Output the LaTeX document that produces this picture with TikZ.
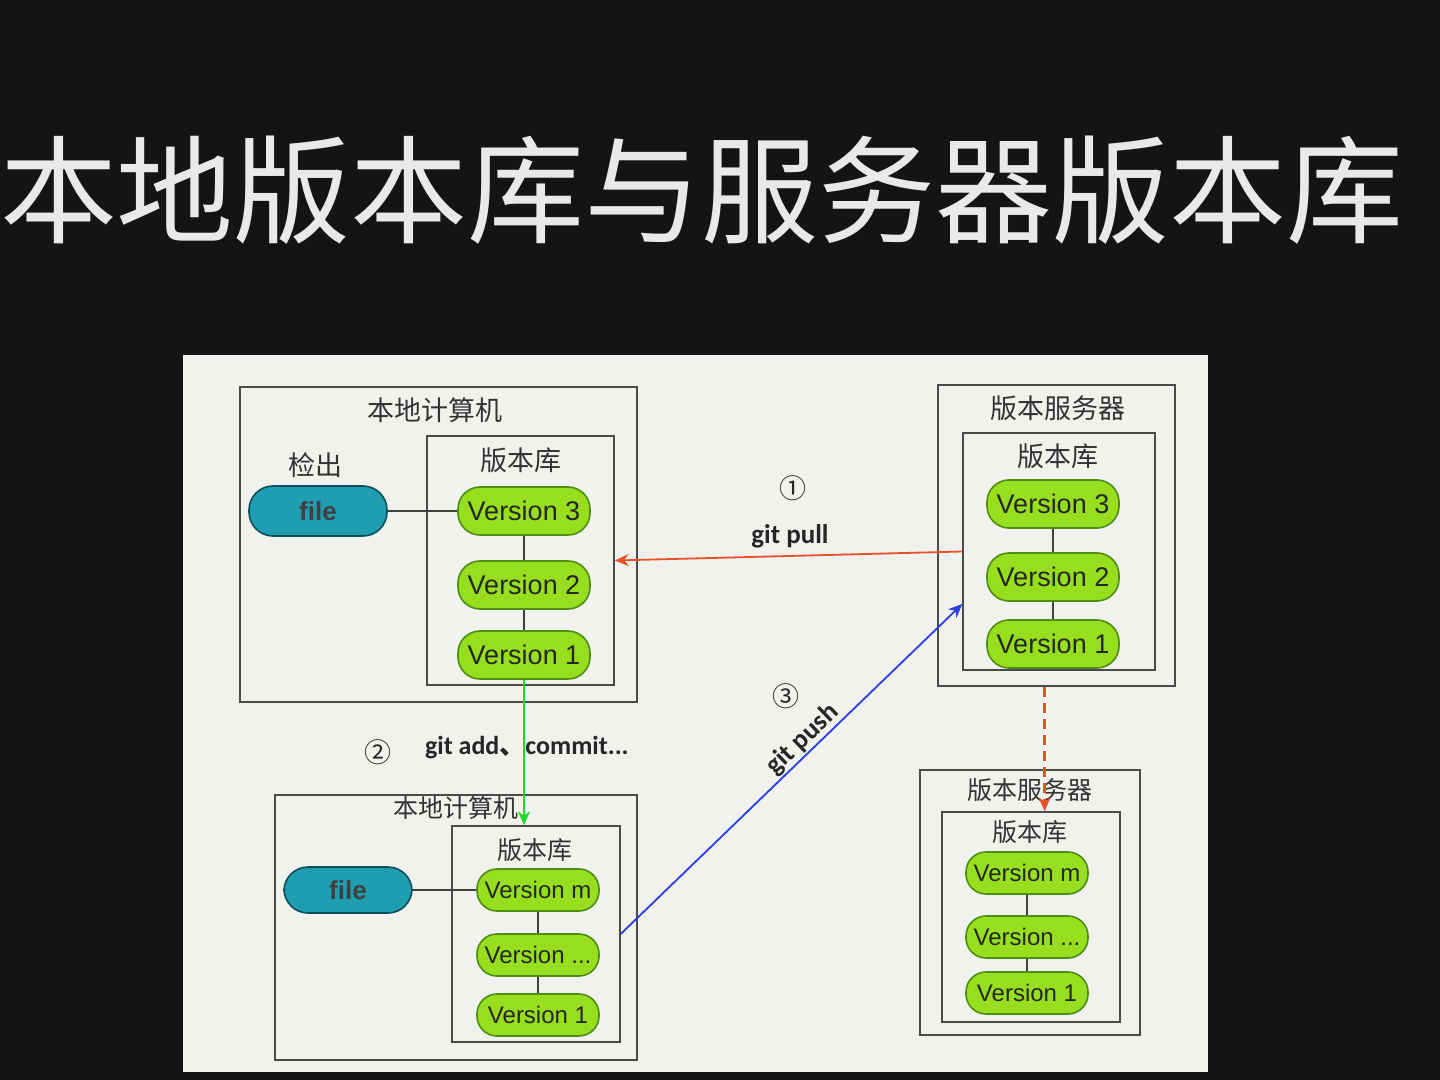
\documentclass[tikz,border=0pt]{standalone}
\usepackage{fontspec}
\newfontfamily\cjk{Noto Sans CJK SC}
\newfontfamily\arialf{Liberation Sans}
\newfontfamily\cali{Carlito}
\usetikzlibrary{calc,arrows.meta}
\definecolor{bgdark}{HTML}{141414}
\definecolor{panel}{HTML}{F1F2EE}
\definecolor{titlewhite}{HTML}{E9E9E9}
\definecolor{framegray}{HTML}{4A4A4A}
\definecolor{limefill}{HTML}{96DE1E}
\definecolor{limeedge}{HTML}{4E8C12}
\definecolor{tealfill}{HTML}{1E9EB0}
\definecolor{tealedge}{HTML}{0E4F5A}
\definecolor{pullred}{HTML}{E8502A}
\definecolor{addgreen}{HTML}{22D82A}
\definecolor{pushblue}{HTML}{2A3FE0}
\begin{document}
\begin{tikzpicture}[x=0.5pt,y=-0.5pt,
  frame/.style={draw=framegray, line width=0.7pt, inner sep=0pt},
  boxlabel/.style={font=\cjk\fontsize{13.5}{14}\selectfont, text=black!80},
  smalllabel/.style={font=\cjk\fontsize{12.5}{13}\selectfont, text=black!80},
  ver/.style={draw=limeedge, fill=limefill, line width=0.8pt, rounded corners=11pt,
    minimum width=66pt, minimum height=24pt, inner sep=1pt,
    font=\arialf\fontsize{13.5}{14}\selectfont, text=black!85},
  versmall/.style={ver, minimum width=61pt, minimum height=21pt, rounded corners=10pt,
    font=\arialf\fontsize{12}{13}\selectfont},
  filebox/.style={draw=tealedge, fill=tealfill, line width=0.8pt, rounded corners=12pt,
    minimum width=69pt, minimum height=25pt, font=\arialf\bfseries\fontsize{13}{14}\selectfont,
    text=black!75},
  chain/.style={draw=black!75, line width=0.6pt},
  gitlabel/.style={font=\cali\bfseries\fontsize{13.5}{14}\selectfont, text=black!85},
  stepnum/.style={font=\cjk\fontsize{13.5}{14}\selectfont, text=black!85},
  arrowtip/.style={-{Stealth[length=7pt,width=6pt]}}
]
\useasboundingbox (0,0) rectangle (1440,1080);
\fill[bgdark] (0,0) rectangle (1440,1080);

% title line
\node[font=\cjk\fontsize{58.5}{60}\selectfont, text=titlewhite] (title) at (702,190)
  {本地版本库与服务器版本库};

% white sheet carrying the diagram
\fill[panel] (183,355) rectangle (1208,1072);

% ---------- local computer (top left) ----------
\node[frame, minimum width=198.5pt, minimum height=157.5pt] (tlo) at (438.5,544.5) {};
\node[boxlabel] (tlot) at (435,410) {本地计算机};
\node[frame, minimum width=93.5pt, minimum height=124.5pt] (tli) at (520.5,560.5) {};
\node[boxlabel] (tlit) at (521,460) {版本库};
\node[boxlabel] (tlco) at (315,465) {检出};
\node[filebox] (tlf) at (318,511) {file};
\node[ver] (tlv3) at (524,511) {Version 3};
\node[ver] (tlv2) at (524,585) {Version 2};
\node[ver] (tlv1) at (524,655) {Version 1};
\draw[chain] (tlf.east) -- (tlv3.west);
\draw[chain] (tlv3.south) -- (tlv2.north);
\draw[chain] (tlv2.south) -- (tlv1.north);

% ---------- version server (top right) ----------
\node[frame, minimum width=118.5pt, minimum height=150.5pt] (tro) at (1056.5,535.5) {};
\node[boxlabel] (trot) at (1058,408) {版本服务器};
\node[frame, minimum width=96pt, minimum height=118.5pt] (tri) at (1059,551.5) {};
\node[boxlabel] (trit) at (1058,456) {版本库};
\node[ver] (trv3) at (1053,504) {Version 3};
\node[ver] (trv2) at (1053,577) {Version 2};
\node[ver] (trv1) at (1053,644) {Version 1};
\draw[chain] (trv3.south) -- (trv2.north);
\draw[chain] (trv2.south) -- (trv1.north);

% ---------- local computer (bottom left) ----------
\node[frame, minimum width=181pt, minimum height=132.5pt] (blo) at (456,927.5) {};
\node[smalllabel] (blot) at (456,808) {本地计算机};
\node[frame, minimum width=84pt, minimum height=108pt] (bli) at (536,934) {};
\node[smalllabel] (blit) at (535,850) {版本库};
\node[filebox, minimum width=64pt, minimum height=23pt] (blf) at (348,890) {file};
\node[versmall] (blvm) at (538,890) {Version m};
\node[versmall] (blvd) at (538,955) {Version ...};
\node[versmall] (blv1) at (538,1015) {Version 1};
\draw[chain] (blf.east) -- (blvm.west);
\draw[chain] (blvm.south) -- (blvd.north);
\draw[chain] (blvd.south) -- (blv1.north);

% ---------- version server (bottom right) ----------
\node[frame, minimum width=110pt, minimum height=132.5pt] (bro) at (1030,902.5) {};
\node[smalllabel] (brot) at (1030,790) {版本服务器};
\node[frame, minimum width=89pt, minimum height=105pt] (bri) at (1031,917) {};
\node[smalllabel] (brit) at (1030,832) {版本库};
\node[versmall] (brvm) at (1027,873) {Version m};
\node[versmall] (brvd) at (1027,937) {Version ...};
\node[versmall] (brv1) at (1027,993) {Version 1};
\draw[chain] (brvm.south) -- (brvd.north);
\draw[chain] (brvd.south) -- (brv1.north);

% ---------- operations ----------
% 1: pull from the server into the local repository
\draw[pullred, line width=0.9pt, arrowtip] (tri.west) -- (tli.east);
\node[stepnum] (n1) at (793,488) {①};
\node[gitlabel] (pulltxt) at (790,536) {git pull};

% 2: local add / commit
\draw[addgreen, line width=1.1pt, arrowtip] (tlv1.south) -- (tlv1.south |- bli.north);
\node[stepnum] (n2) at (378,752) {②};
\node[gitlabel, anchor=west, font=\cali\bfseries\fontsize{13}{14}\selectfont] (addtxt) at (418,748)
  {git add{\cjk\fontsize{13}{14}\selectfont 、}commit...};

% 3: push back to the server
\coordinate (pushend) at ($(tri.north west)!0.72!(tri.south west)$);
\draw[pushblue, line width=0.9pt, arrowtip] (bli.east) -- node[pos=0.56, sloped, above=-3pt, gitlabel] (pushtxt) {git push} (pushend);
\node[stepnum] (n3) at (786,696) {③};

% server state carried down to the next server snapshot
\coordinate (srvout) at ($(tro.south west)!0.45!(tro.south east)$);
\draw[pullred, line width=1.2pt, dash pattern=on 5pt off 3pt, arrowtip] (srvout) -- (srvout |- bri.north);
\end{tikzpicture}
\end{document}
